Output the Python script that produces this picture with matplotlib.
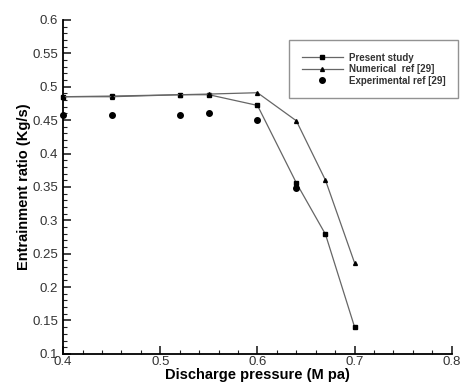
import matplotlib

matplotlib.use("Agg")
import matplotlib.pyplot as plt
from matplotlib.ticker import MultipleLocator

pressure = [0.40, 0.45, 0.52, 0.55, 0.60, 0.64, 0.67, 0.70]
present_study = [0.485, 0.486, 0.488, 0.488, 0.472, 0.356, 0.279, 0.140]
numerical_ref = [0.485, 0.485, 0.488, 0.489, 0.491, 0.449, 0.360, 0.236]
exp_pressure = [0.40, 0.45, 0.52, 0.55, 0.60, 0.64]
experimental_ref = [0.457, 0.457, 0.458, 0.460, 0.450, 0.348]

plt.rcParams["font.family"] = ["Liberation Sans", "DejaVu Sans"]

fig = plt.figure(figsize=(4.61, 3.83), dpi=100)
ax = fig.add_axes([0.137, 0.076, 0.843, 0.872])

ax.plot(pressure, present_study, color="#666666", lw=0.9, marker="s", ms=3,
        mfc="black", mec="black", label="Present study", clip_on=False)
ax.plot(pressure, numerical_ref, color="#666666", lw=0.9, marker="^", ms=2.8,
        mfc="black", mec="black", label="Numerical  ref [29]", clip_on=False)
ax.plot(exp_pressure, experimental_ref, ls="none", marker="o", ms=4,
        color="black", label="Experimental ref [29]", clip_on=False)

ax.set_xlim(0.4, 0.8)
ax.set_ylim(0.1, 0.6)
ax.xaxis.set_major_locator(MultipleLocator(0.1))
ax.xaxis.set_minor_locator(MultipleLocator(0.02))
ax.yaxis.set_major_locator(MultipleLocator(0.05))
ax.yaxis.set_minor_locator(MultipleLocator(0.01))
ax.xaxis.set_major_formatter(lambda v, p: f"{v:g}")
ax.yaxis.set_major_formatter(lambda v, p: f"{v:g}")
ax.tick_params(which="both", direction="in", labelsize=9.5, color="#222222",
               labelcolor="#333333")
ax.tick_params(which="major", length=6, width=1.2)
ax.tick_params(which="minor", length=3, width=0.8)
ax.tick_params(axis="x", pad=1.5)
ax.tick_params(axis="y", pad=3.5)
ax.spines["top"].set_visible(False)
ax.spines["right"].set_visible(False)
ax.spines["left"].set_linewidth(1.3)
ax.spines["bottom"].set_linewidth(1.3)

ax.set_xlabel("Discharge pressure (M pa)", fontsize=10.5, fontweight="bold", labelpad=0)
ax.set_ylabel("Entrainment ratio (Kg/s)", fontsize=10.5, fontweight="bold", labelpad=1)

leg = ax.legend(loc="upper right", bbox_to_anchor=(458 / 461, 1 - 40 / 383),
                bbox_transform=fig.transFigure, fontsize=7,
                frameon=True, fancybox=False, edgecolor="#777777",
                borderpad=1.3, handlelength=4.2, handletextpad=0.6,
                labelspacing=0.15, borderaxespad=0)
leg.get_frame().set_linewidth(1.0)
for t in leg.get_texts():
    t.set_fontweight("bold")
    t.set_color("#333333")

fig.savefig("out.png", dpi=100)
